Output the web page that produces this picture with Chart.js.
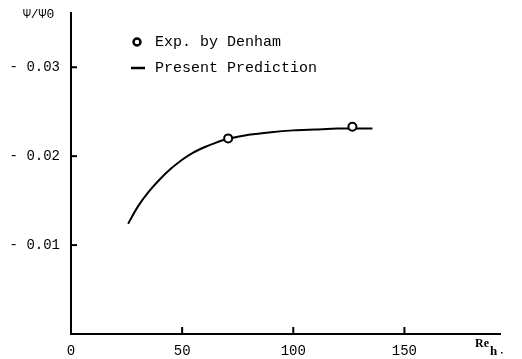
<!DOCTYPE html>
<html>
<head>
<meta charset="utf-8">
<script src="https://cdn.jsdelivr.net/npm/chart.js@4.4.1/dist/chart.umd.min.js"></script>
<style>
html,body{margin:0;padding:0;background:#fff;}
canvas{display:block;}
</style>
</head>
<body>
<canvas id="c" width="522" height="359"></canvas>
<script>
// Data
const expRe = [70.7, 126.6];
const expPsi = [0.0220, 0.0233];
const predRe = [25.7, 30, 35, 40, 45, 50, 55, 60, 65, 70, 80, 90, 100, 110, 120, 130, 135.6];
const predPsi = [0.0124, 0.0143, 0.0160, 0.0174, 0.0186, 0.0196, 0.0204, 0.0210, 0.0215, 0.0219, 0.0224, 0.0227, 0.0229, 0.0230, 0.0231, 0.0231, 0.0231];
const xTicks = [0, 50, 100, 150];
const yTicks = [0.01, 0.02, 0.03];
const seriesLabels = ['Exp. by Denham', 'Present Prediction'];
const yAxisLabel = 'Ψ/Ψ0';
const xAxisLabel = 'Re';
const xAxisSub = 'h';

const MONO = '"Liberation Mono", "DejaVu Sans Mono", monospace';

const decor = {
  id: 'decor',
  afterDraw(chart) {
    const ctx = chart.ctx;
    const xs = chart.scales.x, ys = chart.scales.y;
    const ca = chart.chartArea;
    ctx.save();
    ctx.strokeStyle = '#000';
    ctx.lineWidth = 2;
    // inward tick marks
    yTicks.forEach(v => {
      const py = ys.getPixelForValue(v);
      ctx.beginPath(); ctx.moveTo(ca.left, py); ctx.lineTo(ca.left + 6, py); ctx.stroke();
    });
    xTicks.filter(v => v > 0).forEach(v => {
      const px = xs.getPixelForValue(v);
      ctx.beginPath(); ctx.moveTo(px, ca.bottom); ctx.lineTo(px, ca.bottom - 7); ctx.stroke();
    });
    // y-axis label
    ctx.fillStyle = '#000';
    ctx.font = '13px ' + MONO;
    ctx.textAlign = 'left';
    ctx.textBaseline = 'middle';
    ctx.fillText(yAxisLabel, 23, 15);
    // x-axis label
    ctx.font = 'bold 12px "Liberation Serif", serif';
    ctx.fillText(xAxisLabel, 475, 344);
    ctx.font = 'bold 13px "Liberation Serif", serif';
    ctx.fillText(xAxisSub, 490, 352);
    ctx.fillRect(501, 352, 1.5, 1.5);
    // legend
    const ds0 = chart.data.datasets[0], ds1 = chart.data.datasets[1];
    ctx.font = '15px ' + MONO;
    ctx.beginPath();
    ctx.lineWidth = 2.5;
    ctx.arc(137, 42, 3.5, 0, Math.PI * 2);
    ctx.stroke();
    ctx.fillText(ds0.label, 155, 42);
    ctx.lineWidth = 2.5;
    ctx.beginPath(); ctx.moveTo(131, 68); ctx.lineTo(145, 68); ctx.stroke();
    ctx.fillText(ds1.label, 155, 68);
    ctx.restore();
  }
};

new Chart(document.getElementById('c'), {
  type: 'scatter',
  data: {
    datasets: [
      {
        label: seriesLabels[0],
        data: expRe.map((x, i) => ({x, y: expPsi[i]})),
        pointStyle: 'circle',
        pointRadius: 4,
        pointBorderWidth: 2,
        borderColor: '#000',
        backgroundColor: '#fff',
        showLine: false,
        order: 0
      },
      {
        label: seriesLabels[1],
        data: predRe.map((x, i) => ({x, y: predPsi[i]})),
        showLine: true,
        borderColor: '#000',
        borderWidth: 2,
        pointRadius: 0,
        tension: 0.3,
        order: 1
      }
    ]
  },
  options: {
    responsive: false,
    animation: false,
    layout: {padding: {top: 13, right: 22, left: 0, bottom: 0}},
    plugins: {legend: {display: false}, tooltip: {enabled: false}},
    scales: {
      x: {
        type: 'linear',
        min: 0, max: 193,
        afterFit: s => { s.height = 25; s.paddingLeft = 0; s.paddingRight = 0; },
        afterBuildTicks: s => { s.ticks = xTicks.map(v => ({value: v})); },
        grid: {display: false, drawTicks: false},
        border: {display: true, color: '#000', width: 2},
        ticks: {
          color: '#000', padding: 9,
          font: {family: MONO, size: 14},
          callback: v => String(v)
        }
      },
      y: {
        type: 'linear',
        min: 0, max: 0.0361,
        afterFit: s => { s.width = 71; s.paddingTop = 0; s.paddingBottom = 0; },
        afterBuildTicks: s => { s.ticks = yTicks.map(v => ({value: v})); },
        grid: {display: false, drawTicks: false},
        border: {display: true, color: '#000', width: 2},
        ticks: {
          color: '#000', padding: 11,
          font: {family: MONO, size: 14},
          callback: v => '- ' + v.toFixed(2)
        }
      }
    }
  },
  plugins: [decor]
});
</script>
</body>
</html>
